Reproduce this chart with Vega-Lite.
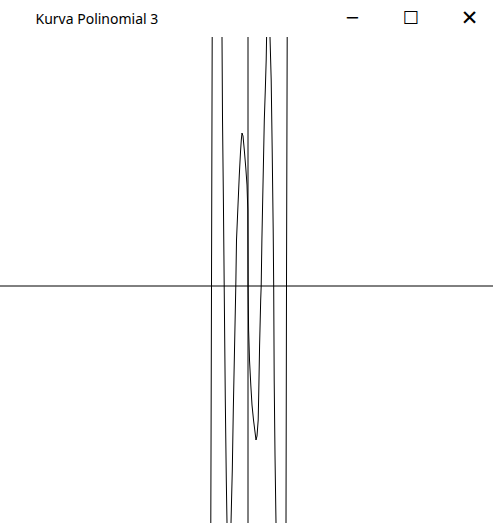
{
  "$schema": "https://vega.github.io/schema/vega-lite/v6.json",
  "autosize": {"type": "none"},
  "width": 493,
  "height": 486,
  "padding": {"top": 37, "left": 0, "right": 0, "bottom": 0},
  "background": "white",
  "config": {"view": {"stroke": null}},
  "datasets": {
    "curve": [
      {"seg": "A", "x": -37.2, "y": -237}, {"seg": "A", "x": -36.5, "y": 0}, {"seg": "A", "x": -35.8, "y": 249},
      {"seg": "B", "x": -26, "y": 249}, {"seg": "B", "x": -25.5, "y": 168}, {"seg": "B", "x": -24.6, "y": 86}, {"seg": "B", "x": -23.8, "y": 0}, {"seg": "B", "x": -22.7, "y": -114}, {"seg": "B", "x": -21.7, "y": -194}, {"seg": "B", "x": -21, "y": -237},
      {"seg": "C", "x": -17, "y": -237}, {"seg": "C", "x": -15.7, "y": -184}, {"seg": "C", "x": -14.7, "y": -124}, {"seg": "C", "x": -13.5, "y": -64}, {"seg": "C", "x": -12.2, "y": 0}, {"seg": "C", "x": -11.5, "y": 46}, {"seg": "C", "x": -10, "y": 81}, {"seg": "C", "x": -8.7, "y": 111}, {"seg": "C", "x": -7.5, "y": 134}, {"seg": "C", "x": -6.7, "y": 146}, {"seg": "C", "x": -6, "y": 153}, {"seg": "C", "x": -5, "y": 150}, {"seg": "C", "x": -3.7, "y": 136}, {"seg": "C", "x": -2.2, "y": 118}, {"seg": "C", "x": -1, "y": 101}, {"seg": "C", "x": -0.2, "y": 76}, {"seg": "C", "x": 0.1, "y": 0}, {"seg": "C", "x": 0.6, "y": -44}, {"seg": "C", "x": 1.5, "y": -74}, {"seg": "C", "x": 2.8, "y": -99}, {"seg": "C", "x": 4, "y": -119}, {"seg": "C", "x": 5.5, "y": -134}, {"seg": "C", "x": 7, "y": -146}, {"seg": "C", "x": 8, "y": -154}, {"seg": "C", "x": 9, "y": -150}, {"seg": "C", "x": 10.2, "y": -134}, {"seg": "C", "x": 10.8, "y": -104}, {"seg": "C", "x": 11.6, "y": -59}, {"seg": "C", "x": 12.7, "y": -14}, {"seg": "C", "x": 13.2, "y": 0}, {"seg": "C", "x": 13.9, "y": 46}, {"seg": "C", "x": 14.7, "y": 86}, {"seg": "C", "x": 15.5, "y": 126}, {"seg": "C", "x": 16.3, "y": 166}, {"seg": "C", "x": 17.3, "y": 196}, {"seg": "C", "x": 18.2, "y": 226}, {"seg": "C", "x": 18.6, "y": 249},
      {"seg": "D", "x": 22, "y": 249}, {"seg": "D", "x": 23.2, "y": 206}, {"seg": "D", "x": 24.2, "y": 136}, {"seg": "D", "x": 25.2, "y": 56}, {"seg": "D", "x": 25.7, "y": 0}, {"seg": "D", "x": 26.2, "y": -94}, {"seg": "D", "x": 27, "y": -169}, {"seg": "D", "x": 28, "y": -237},
      {"seg": "E", "x": 38, "y": -237}, {"seg": "E", "x": 38.5, "y": 0}, {"seg": "E", "x": 39.2, "y": 249}
    ]
  },
  "resolve": {"axis": {"x": "independent", "y": "independent"}},
  "layer": [
    {
      "data": {"values": [{"y": 0}]},
      "mark": {"type": "rule", "color": "#000000", "strokeWidth": 1},
      "encoding": {
        "y": {
          "field": "y", "type": "quantitative",
          "scale": {"domain": [-237, 249], "nice": false, "zero": false},
          "axis": {
            "orient": "right", "domain": false, "ticks": false, "labels": false, "grid": false,
            "title": "✕", "titleFont": "DejaVu Sans", "titleFontSize": 21, "titleFontWeight": "normal",
            "titleColor": "#000000", "titleAngle": 0, "titleAlign": "center", "titleBaseline": "middle",
            "titleX": -24, "titleY": -19
          }
        }
      }
    },
    {
      "data": {"values": [{"x": 0}]},
      "mark": {"type": "rule", "color": "#000000", "strokeWidth": 1},
      "encoding": {
        "x": {
          "field": "x", "type": "quantitative",
          "scale": {"domain": [-248, 245], "nice": false, "zero": false},
          "axis": {
            "orient": "bottom", "domain": false, "ticks": false, "labels": false, "grid": false,
            "title": "☐", "titleFont": "DejaVu Sans", "titleFontSize": 18, "titleFontWeight": "normal",
            "titleColor": "#000000", "titleAngle": 0, "titleAlign": "center", "titleBaseline": "middle",
            "titleX": 410, "titleY": -505
          }
        }
      }
    },
    {
      "data": {"name": "curve"},
      "mark": {"type": "line", "color": "#000000", "strokeWidth": 1, "clip": true},
      "encoding": {
        "x": {
          "field": "x", "type": "quantitative",
          "scale": {"domain": [-248, 245], "nice": false, "zero": false},
          "axis": {
            "orient": "top", "domain": false, "ticks": false, "labels": false, "grid": false,
            "title": "─", "titleFont": "DejaVu Sans", "titleFontSize": 18, "titleFontWeight": "normal",
            "titleColor": "#000000", "titleAngle": 0, "titleAlign": "center", "titleBaseline": "middle",
            "titleX": 352, "titleY": -19
          }
        },
        "y": {
          "field": "y", "type": "quantitative",
          "scale": {"domain": [-237, 249], "nice": false, "zero": false},
          "axis": {
            "orient": "left", "domain": false, "ticks": false, "labels": false, "grid": false,
            "title": "Kurva Polinomial 3", "titleFont": "Noto Sans", "titleFontSize": 14, "titleFontWeight": "normal",
            "titleColor": "#000000", "titleAngle": 0, "titleAlign": "left", "titleBaseline": "alphabetic",
            "titleX": 35, "titleY": -14
          }
        },
        "detail": {"field": "seg", "type": "nominal"}
      }
    }
  ]
}
